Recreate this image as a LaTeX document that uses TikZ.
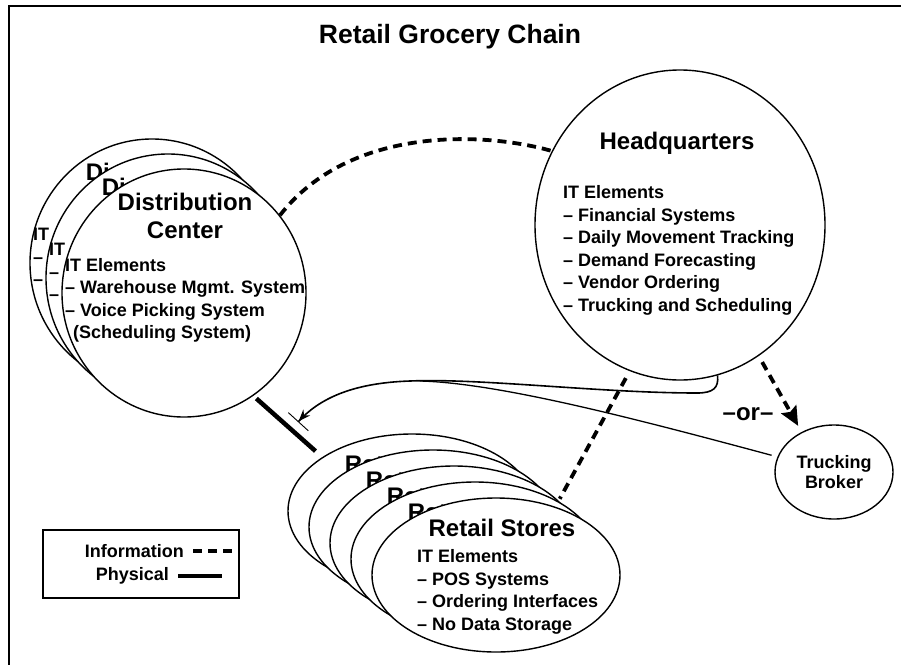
\documentclass[tikz,border=0pt]{standalone}
\usepackage{fontspec}
\setmainfont{Liberation Sans}
\usetikzlibrary{shapes.geometric,arrows.meta}

\newcommand{\dcitems}{IT Elements\\-- Warehouse Mgmt. System\\-- Voice Picking System\\\hspace*{8pt}(Scheduling System)}
\newcommand{\hqitems}{IT Elements\\-- Financial Systems\\-- Daily Movement Tracking\\-- Demand Forecasting\\-- Vendor Ordering\\-- Trucking and Scheduling}
\newcommand{\rsitems}{IT Elements\\-- POS Systems\\-- Ordering Interfaces\\-- No Data Storage}

\begin{document}
\begin{tikzpicture}[x=1pt,y=-1pt]

    \tikzset{bubble/.style={draw,ellipse,fill=white,line width=1.4pt,inner sep=0pt},
             dcround/.style={bubble,minimum width=244pt,minimum height=248pt},
             rsround/.style={bubble,minimum width=248pt,minimum height=154pt},
             headtext/.style={font=\fontsize{24}{28}\selectfont\bfseries,align=center,inner sep=0pt},
             bodytext/.style={font=\fontsize{18}{22.5}\selectfont\bfseries,align=left,inner sep=0pt,anchor=north west},
             info/.style={line width=3.8pt,dash pattern=on 9pt off 6pt},
             physical/.style={line width=4.5pt},
             flow/.style={line width=1.6pt}}

    \useasboundingbox (0,0) rectangle (901,664);
    \clip (0,0) rectangle (901,664);
    \draw[line width=2.4pt] (9,6) rectangle (920,690);

    \node[font=\fontsize{26.5}{30}\selectfont\bfseries] (title) at (450,37) {Retail Grocery Chain};

    % distribution centers, back to front (only the visible bits of the back ones)
    \node[dcround] (dc1) at (152,263) {};
    \node[headtext,anchor=base west] (dc1-head) at (85.7,180.8) {Di};
    \node[bodytext] (dc1-body) at (33,228) {IT\\--\\--};
    \node[dcround] (dc2) at (168,278) {};
    \node[headtext,anchor=base west] (dc2-head) at (101.7,195.8) {Di};
    \node[bodytext] (dc2-body) at (49,243) {IT\\--\\--};
    \node[dcround] (dc3) at (184,293) {};
    \node[headtext] (dc3-head) at (185,216) {Distribution\\Center};
    \node[bodytext] (dc3-body) at (65,258) {\dcitems};

    \node[bubble,minimum width=290pt,minimum height=310pt] (hq) at (680,225) {};
    \node[headtext] (hq-head) at (677,143) {Headquarters};
    \node[bodytext] (hq-body) at (563,185.5) {\hqitems};

    % retail stores, back to front
    \node[rsround] (rs1) at (412,511) {};
    \node[headtext,anchor=base west] (rs1-head) at (344.6,472.8) {Ret};
    \node[rsround] (rs2) at (433,527) {};
    \node[headtext,anchor=base west] (rs2-head) at (365.6,488.8) {Ret};
    \node[rsround] (rs3) at (454,543) {};
    \node[headtext,anchor=base west] (rs3-head) at (386.6,504.8) {Ret};
    \node[rsround] (rs4) at (475,559) {};
    \node[headtext,anchor=base west] (rs4-head) at (407.6,520.8) {Ret};
    \node[rsround] (rs5) at (496,575) {};
    \node[headtext] (rs5-head) at (502,528) {Retail Stores};
    \node[bodytext] (rs5-body) at (417,549.3) {\rsitems};

    \node[bubble,minimum width=118pt,minimum height=94pt,
          font=\fontsize{18}{20}\selectfont\bfseries,align=center] (tb) at (834,472) {Trucking\\Broker};
    \node[headtext] (or) at (748,414) {--or--};

    \coordinate (tick) at (298,422);

    \draw[info] (dc3.39) .. controls (350,125) and (486,132) .. (hq.150);
    \draw[info,shorten <=8pt,shorten >=9pt] (hq.-109) -- (rs5.49);
    \draw[info,-{Stealth[length=19pt,width=17pt,inset=3pt]},shorten <=7pt,shorten >=7pt] (hq.-59) -- (tb.129);
    \draw[physical,shorten <=4pt,shorten >=9pt] (dc3.-56) -- (rs1.149);

    \draw[flow,-{Stealth[length=12pt,width=9pt]Bar[width=27pt,line width=0.9pt]}] (hq.-76)
        .. controls (719,388) and (713,393) .. (697,393)
        .. controls (600,393) and (480,378) .. (410,381)
        .. controls (350,383) and (318,400) .. (tick);
    \draw[flow,line width=1.3pt,shorten <=6pt] (tb.165) .. controls (640,420) and (500,383) .. (420,381);

    % legend
    \node[draw,line width=1.4pt,minimum width=196pt,minimum height=68pt] (legend) at (141,564) {};
    \node[bodytext,anchor=east] (infokey) at (184,551) {Information};
    \node[bodytext,anchor=east] (physkey) at (169,576) {Physical};
    \draw[info] ([xshift=9pt]infokey.east) -- ++(39,0);
    \draw[physical] ([xshift=9pt]physkey.east) -- ++(44,0);

\end{tikzpicture}
\end{document}
